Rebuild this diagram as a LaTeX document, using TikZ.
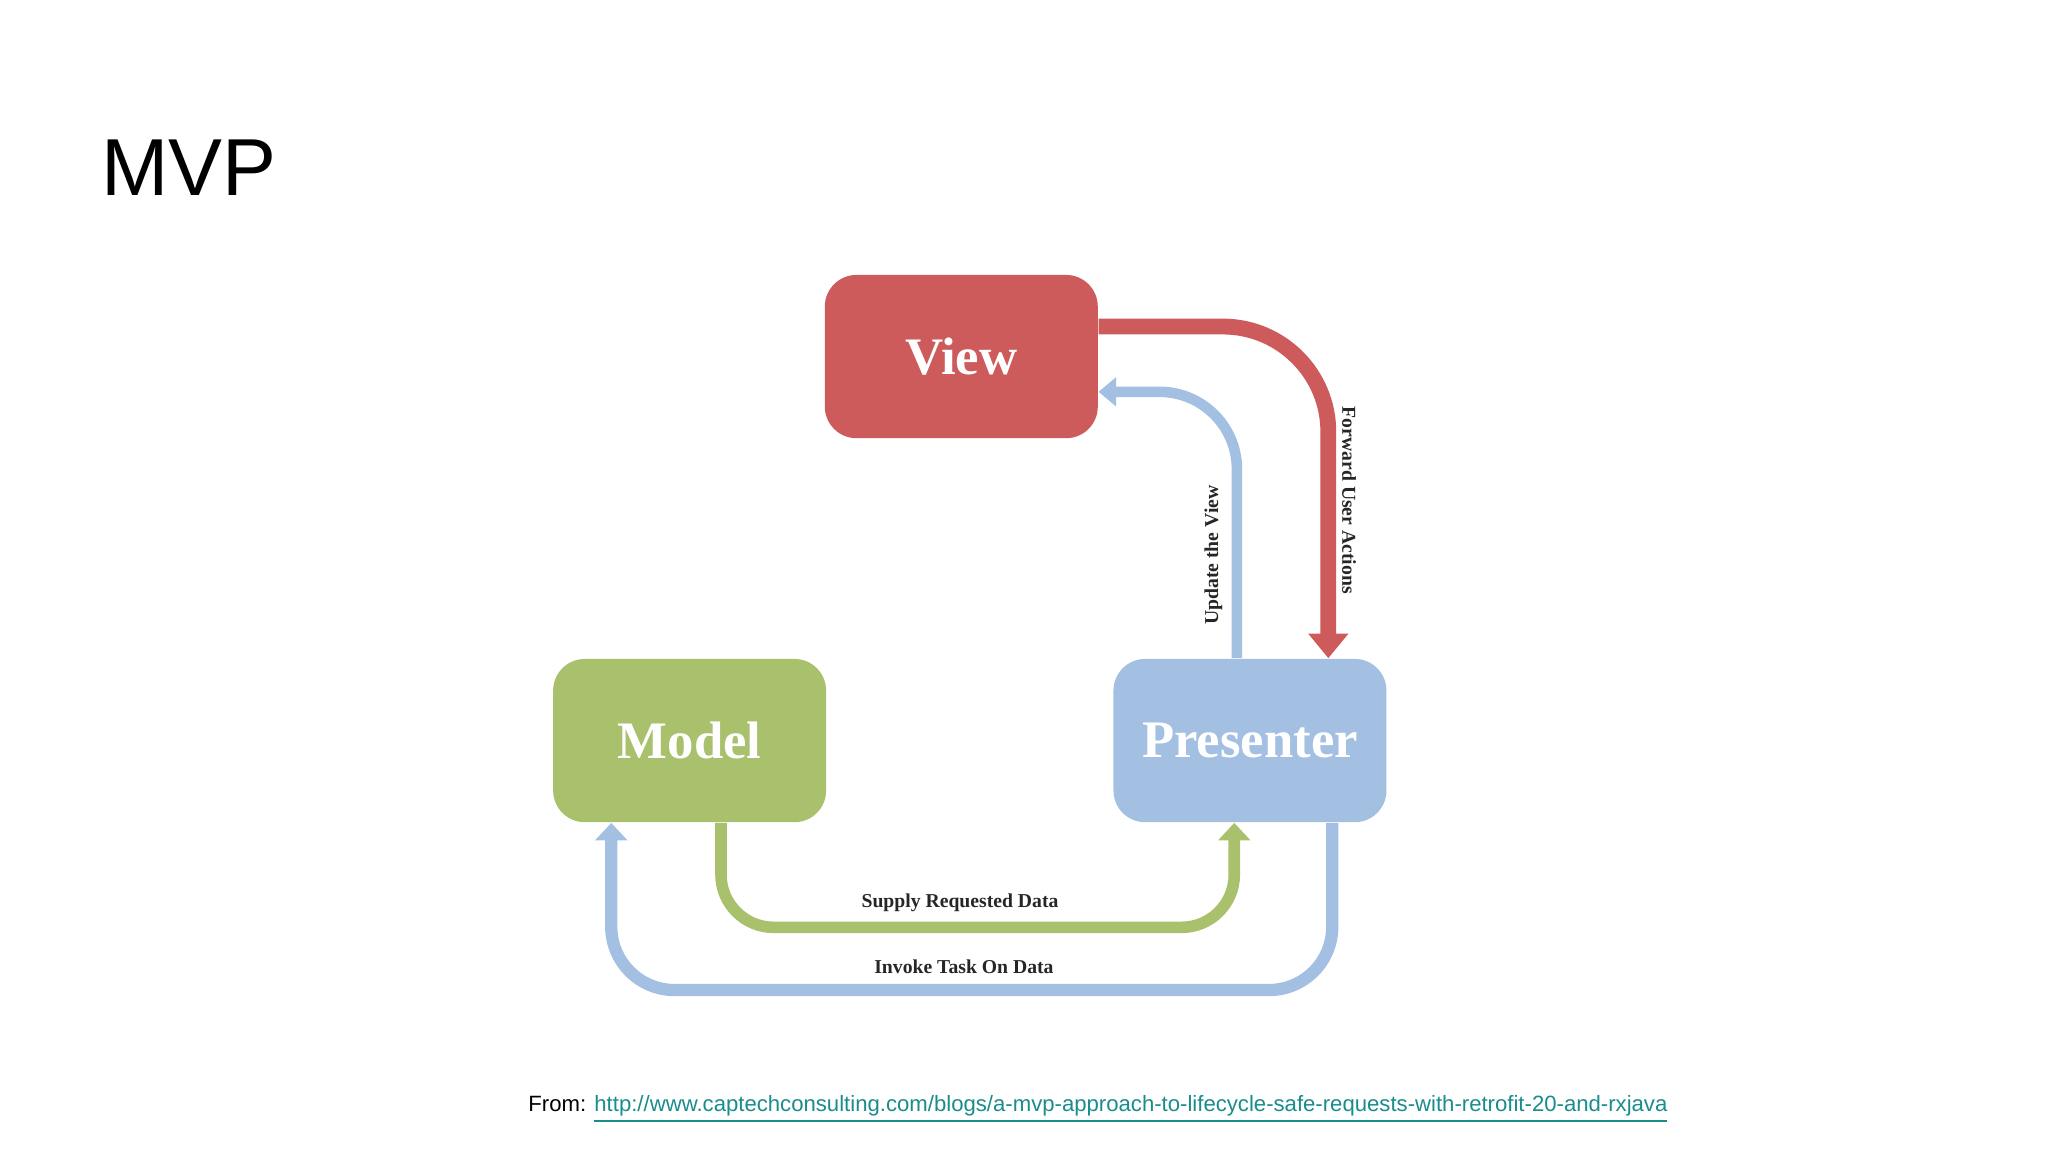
\documentclass[tikz,border=0pt]{standalone}
\usepackage{fontspec}
\setmainfont{Liberation Serif}
\newfontfamily\arial{Liberation Sans}
\usetikzlibrary{arrows.meta}
\definecolor{vred}{HTML}{CD5B5B}
\definecolor{mgreen}{HTML}{A9C16C}
\definecolor{pblue}{HTML}{A3BFE2}
\definecolor{lnk}{HTML}{1A8C8C}
\begin{document}
\begin{tikzpicture}[x=0.01306cm,y=-0.01306cm,
 box/.style={rounded corners=9pt,minimum width=209*0.01306cm,minimum height=125*0.01306cm,inner sep=0pt,text=white,font=\bfseries\fontsize{15}{17}\selectfont},
 lbl/.style={font=\bfseries\fontsize{5.6}{6}\selectfont,text=black!85}]
\useasboundingbox (0,0) rectangle (1568,882);
\node[anchor=base west,font=\arial\fontsize{23}{26}\selectfont] (t) at (68,150) {MVP};
\node[box,fill=vred] (view) at (736,273) {View};
\node[box,fill=mgreen] (model) at (528,567) {Model};
\node[box,fill=pblue] (pres) at (957,567) {Presenter};
% forward user actions
\coordinate (f1) at (1017,250);
\draw[vred,line width=4.5pt,rounded corners=30pt,-{Triangle[width=11pt,length=7pt]}] (view.east|-f1) -- (f1) -- (pres.north-|f1);
% update the view
\coordinate (u1) at (947,300);
\draw[pblue,line width=3pt,rounded corners=22pt,-{Triangle[width=8pt,length=5pt]}] (pres.north-|u1) -- (u1) -- (view.east|-u1);
% supply requested data
\coordinate (s1) at (552,710); \coordinate (s2) at (945,710);
\draw[mgreen,line width=3.3pt,rounded corners=15pt,-{Triangle[width=9pt,length=5pt]}] (model.south-|s1) -- (s1) -- (s2) -- (pres.south-|s2);
% invoke task on data
\coordinate (i1) at (1020,758); \coordinate (i2) at (468,758);
\draw[pblue,line width=3.5pt,rounded corners=18pt,-{Triangle[width=9pt,length=5pt]}] (pres.south-|i1) -- (i1) -- (i2) -- (model.south-|i2);
\node[lbl] (ls) at (735,691) {Supply Requested Data};
\node[lbl] (li) at (738,740) {Invoke Task On Data};
\node[lbl,rotate=90] (lu) at (929,425) {Update the View};
\node[lbl,rotate=-90] (lf) at (1033,383) {Forward User Actions};
\node[anchor=base west,inner sep=0pt,font=\arial\fontsize{6.3}{7}\selectfont] (from) at (404,851) {From: \textcolor{lnk}{\underline{http://www.captechconsulting.com/blogs/a-mvp-approach-to-lifecycle-safe-requests-with-retrofit-20-and-rxjava}}};
\end{tikzpicture}
\end{document}
